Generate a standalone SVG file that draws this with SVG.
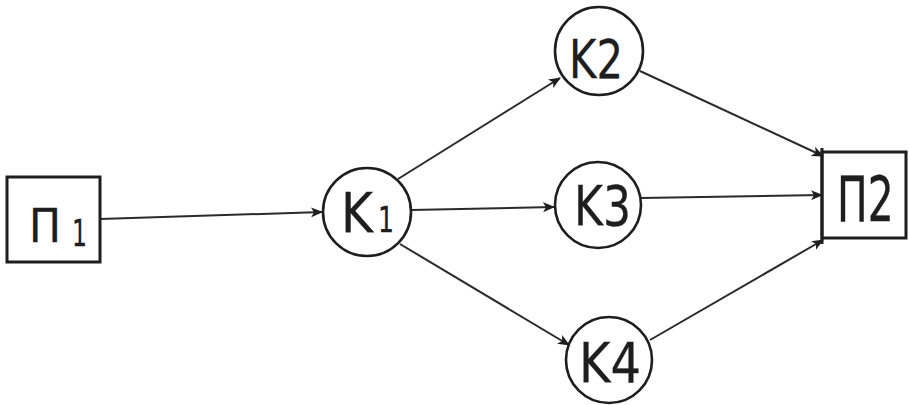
<svg xmlns="http://www.w3.org/2000/svg" width="909" height="405" viewBox="0 0 909 405">
  <style>
    .box { fill: none; stroke: #1e1e1e; stroke-width: 3; }
    .node { fill: #ffffff; stroke: #1e1e1e; stroke-width: 2.6; }
    .edge { fill: none; stroke: #2a2a2a; stroke-width: 2; marker-end: url(#arrow); }
    .lbl { font-family: "DejaVu Sans", "Liberation Sans", sans-serif; fill: #1e1e1e; stroke: #1e1e1e; stroke-width: 0.3; }
  </style>
  <defs>
    <marker id="arrow" viewBox="0 0 12 10" refX="11" refY="5" markerWidth="12" markerHeight="10" markerUnits="userSpaceOnUse" orient="auto">
      <path d="M0,0 L12,5 L0,10 L3,5 Z" fill="#1e1e1e"/>
    </marker>
  </defs>
  <rect width="909" height="405" fill="#ffffff"/>

  <g id="connectors">
    <line class="edge" x1="100" y1="219" x2="322" y2="212"/>
    <line class="edge" x1="398" y1="179" x2="560" y2="78"/>
    <line class="edge" x1="411" y1="210" x2="554" y2="207"/>
    <line class="edge" x1="400" y1="244" x2="569" y2="345"/>
    <line class="edge" x1="640" y1="71" x2="823" y2="156"/>
    <line class="edge" x1="641" y1="198" x2="822" y2="195"/>
    <line class="edge" x1="650" y1="340" x2="823" y2="240"/>
  </g>

  <g id="p1">
    <rect class="box" x="7" y="177" width="93" height="85"/>
    <text class="lbl" x="29" y="242" font-size="46" textLength="32" lengthAdjust="spacingAndGlyphs">П</text>
    <text class="lbl" x="72" y="246" font-size="38" textLength="15" lengthAdjust="spacingAndGlyphs">1</text>
  </g>

  <g id="k1">
    <circle class="node" cx="367" cy="212" r="44"/>
    <text class="lbl" x="341" y="232" font-size="56" textLength="32" lengthAdjust="spacingAndGlyphs">K</text>
    <text class="lbl" x="378" y="232" font-size="36" textLength="16" lengthAdjust="spacingAndGlyphs">1</text>
  </g>

  <g id="k2">
    <circle class="node" cx="599" cy="51" r="44"/>
    <text class="lbl" x="569" y="78" font-size="54" textLength="54" lengthAdjust="spacingAndGlyphs">K2</text>
  </g>

  <g id="k3">
    <circle class="node" cx="598" cy="205" r="43"/>
    <text class="lbl" x="574" y="225" font-size="56" textLength="57" lengthAdjust="spacingAndGlyphs">K3</text>
  </g>

  <g id="k4">
    <circle class="node" cx="609" cy="360" r="43"/>
    <text class="lbl" x="579" y="382" font-size="56" textLength="62" lengthAdjust="spacingAndGlyphs">K4</text>
  </g>

  <g id="p2">
    <rect class="box" x="822" y="152" width="84" height="86"/>
    <line class="box" x1="822" y1="148" x2="822" y2="244"/>
    <text class="lbl" transform="translate(837,221) scale(1.02,1.55)" x="0" y="0" font-size="40">П2</text>
  </g>
</svg>
